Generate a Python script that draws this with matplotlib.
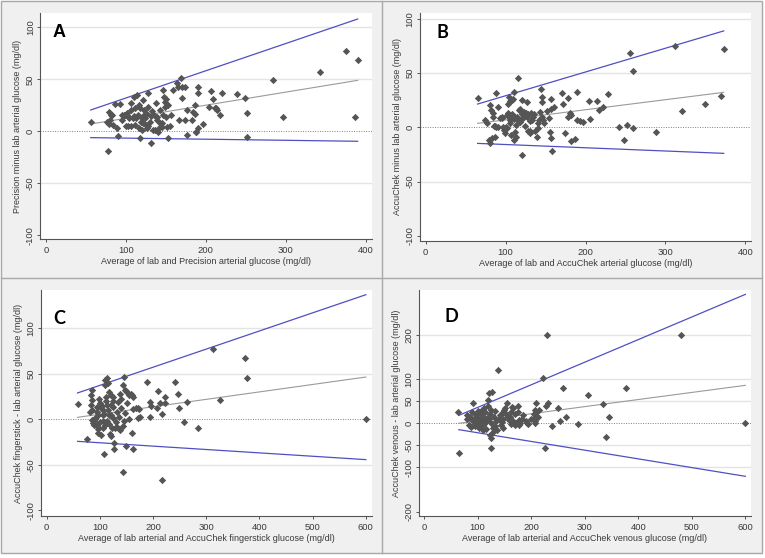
import matplotlib
matplotlib.use("Agg")
import matplotlib.pyplot as plt
from matplotlib.patches import Rectangle
from matplotlib.lines import Line2D
import numpy as np

plt.rcParams['font.family'] = ['Liberation Sans', 'DejaVu Sans']

# ---------------- data ----------------
a_x = [56, 78, 79, 82, 80, 84, 88.5, 90.5, 86, 92.6, 94.7, 97.6, 101, 103, 107, 107, 108.5, 110, 111.4, 114,
       115.5, 116.8, 117.6, 118.5, 119.8, 121.8, 122.7, 124, 126, 128, 128, 130, 132, 134, 135, 137.7, 138.5,
       140.5, 142.7, 144.8, 146.8, 149, 150, 151.8, 153, 159, 163.6, 165.6, 170, 174, 168.6, 169.8, 176, 166.5,
       174, 176, 182.3, 184.4, 186.5, 190, 190.6, 187.3, 190.6, 197, 206.5, 209.4, 211, 214, 217.8, 220, 239.4,
       249, 251, 252, 284, 296, 343, 376, 387, 390,
       76, 81, 79, 99, 104, 106, 113, 120, 123, 125, 126, 131, 136, 139, 143, 145, 146, 148, 149, 150, 153, 155,
       157, 186, 188, 204, 213, 95, 100, 102, 112, 118, 128, 133, 141, 116, 110, 121]
a_y = [9.2, -19, 18.8, 15.7, 10.9, 6, 2.9, -4.2, 26, 26, 10.9, 15.7, 15.7, 5.1, 26.9, 20.5, 12.5, 33.3, 6, 35,
       15.7, 25.3, -6.1, 9.2, 1.2, 30, 20.5, 12.5, 2.9, 36.5, 23.7, 9.2, -11, 1.2, 15.7, 26.9, 10.9,
       -0.4, 20.5, 7.7, 39.7, 28.5, 14, 4.4, -6.1, 39.7, 46.7, 42.5, 42.5, 42.5, 51, 31.7, 20.5, 10.9,
       10.9, -3.5, 10.9, 18.8, 25.3, 42.9, 36.5, -0.4, 2.9, 7, 39, 30.8, 22, 20.5, 15.7, 37, 35.9,
       32.3, 17.3, -5.2, 49, 14, 57, 77, 14, 69,
       9.3, 16, 7, 16, 12.5, 5, 12.5, 12.5, 16, 6, 17, 15, 1, 14, 8, 4, 16, 33, 23, 31, 25, 5,
       16, 17, -1, 23, 22, 16, 5, 18, 22, 22, 5, 20, 3, 3, 15, 8]
a_line_x = [56, 390]
a_upper = [20.5, 108]
a_mean = [7, 49]
a_lower = [-6.1, -9.6]

b_x = [65, 79.6, 83, 86.7, 80.5, 74, 77, 80.5, 82, 84, 84, 85, 87, 88.5, 88, 91, 95, 97, 99.6, 99, 101.4, 103,
       104, 105, 106, 103, 104, 106, 108, 110.5, 112, 113, 114.6, 116, 117, 118, 120, 121, 123, 124.3, 126.4,
       127, 128, 130, 131, 132, 133, 134, 139, 141, 143, 144.3, 145, 145.5, 146, 147, 148, 152, 154.7, 155.6,
       156.8, 157.6, 157, 161, 156.8, 170, 172, 174, 178.5, 178, 180, 182, 182, 187, 189, 189, 193, 197,
       204.7, 205.6, 214.8, 217, 222, 228.5, 242, 248.6, 252, 259, 255.7, 259, 288, 311.6, 321, 349, 369, 373,
       100, 102, 108, 110, 112, 115, 118, 120, 122, 125, 128, 130, 135, 137, 140, 142, 109, 111, 113, 107, 121,
       90, 93, 96, 98]
b_y = [27.3, -11.7, -10, -8.7, -14.8, 6.7, 3.7, 20.6, 16, 13.5, 9.8, 1.6, 1, 0.4, 31.4, 19, 8.3, 0.7, -1.5, -5.5,
       11.4, 13.5, 10, 6.7, 3.7, 22, 28, 24, 25, 32.9, -4, -8.7, 9.2, 45.2, 16, 5.2, 25.2, 12, 14, 1.2, 23.6,
       9.2, -3, -5.5, -3.5, 13, 7, 10, -8.7, -1, 14.4, 35, 28, 23.6, 10, 7, 4, 15.3, 8.3, -4,
       -10, -21.6, 17, 19, 25.8, 32, 21.5, -5.5, 26.8, 10, 13, 11, -12.6, -10.8, 32.9, 6.7, 6, 5.2,
       24.6, 7.4, 24.6, 16, 19, 30.5, 0, -11.7, 2.1, -0.9, 68.3, 52, -4, 75, 15, 22, 29, 72,
       0, -1, 12, 8, 10, 7, 17, 8, 10, 13, 12, 6, 12, -3, 4, 7, 26, -12, 2, -7, -25.5,
       0, 9, 10, -2]
b_line_x = [65, 373]
b_upper = [21.5, 89]
b_mean = [3.7, 32.3]
b_lower = [-14.8, -24]

c_x = [59.5, 76, 81.5, 84.6, 82.7, 84, 85, 84.6, 87, 84.6, 94, 94, 95.5, 97, 95, 97, 99, 103, 104, 105, 106,
       105, 111.5, 110, 114, 110, 116, 113, 115, 117, 114, 117, 118.5, 120, 120.6, 123.7, 120, 123.7, 120.6,
       125, 128.5, 131.6, 134, 137, 139, 143, 144, 147, 147, 149, 151, 151.6, 155.4, 158, 160, 162, 161, 163,
       168, 171, 174, 171, 175, 189, 194, 195, 196, 210, 208, 216, 213, 222, 222.5, 241, 247.5, 249.4, 258,
       264.4, 285, 326, 376, 144, 217.5, 313.5, 372, 600, 108, 127, 149, 162, 127, 146,
       90, 92, 100, 102, 108, 110, 112, 118, 125, 130, 133, 136, 140, 100, 96, 88, 138, 106, 155, 145, 122]
c_y = [16.5, -21.7, 8.4, 10.2, 15.7, 26.7, 32, -0.8, -4, 21, 13.8, -5, -8, -11, 8, 5, 22, -17.3, 15, 10, 4.4,
       -1.5, 24.8, 43, 45, 37.7, 39.5, 16, 10, 4.5, -2, -5, -16, -18, 27, 24, 16, 13.5, 4.5,
       1.6, -9.9, 8.4, 19, 28, 13, -7.4, 37.7, 6.6, 32, 31, 30, 17.6, 26.7, 28, 27, 25, -14.7, 11,
       13, 12, 11, 2, 3, 41.3, 2.9, 19, 15, 31, 13, 5.8, 18, 18, 24, 41.3, 27.5, 12.7, -2.6,
       19.3, -10, 21, 45, -58, -67, 77.7, 67.4, 0, -37.7, -33, -29.7, -33, -26, 46.5,
       0, 3, -3, 12, 6, -6, 20, 30, 20, -3, -8, 3, 22, 18, -15, -6, -12, -10, 0, -2, -10]
c_line_x = [58, 600]
c_upper = [29, 137]
c_mean = [2.2, 46.5]
c_lower = [-24.2, -44.3]

d_x = [64, 65, 79.7, 81, 84.6, 87, 92, 89, 93, 95, 96, 97, 99, 101, 98, 100, 103, 104, 107, 103, 106, 108, 110,
       112, 114, 110, 115, 106, 112, 122, 120, 126.4, 121, 123, 126, 129, 128, 123, 126, 124.5, 139, 148, 152,
       155, 150, 148, 153, 157, 148, 164, 176, 160, 163, 166, 170, 167, 172, 178, 183, 180, 170, 178, 210, 205,
       208, 210, 207, 208, 227, 231, 223, 226, 238.4, 250.7, 254, 260, 266, 288, 305.6, 335, 340, 345, 230,
       479, 378, 600,
       118, 130, 135, 140, 145, 132, 137, 116, 125, 133, 141, 144, 119, 111, 102, 96, 90, 85, 158, 162, 175,
       185, 190, 195, 200, 205, 212, 215, 192]
d_y = [25, -68, 18.9, 9, -4, -7.7, 47, 26, 5, -2, -6, 18, 22, 28, 15, 0, 6, -8, -4, 10, 20, 30, 15,
       35, 25, 8, 5, 0, -2, 69.5, 53, 72, 10, 20, 0, -10, -19, -26.5, -34, -57, 121, 25, 35,
       45, 30, 10, 20, 15, -11.5, 38, 40, 15, 25, 35, 20, 5, 0, 8, 10, 0, -3, -3, 47, 20,
       30, 25, 0, 5, 40, 46, 102, -57, -6, 34, 6, 79.5, 15, -1.6, 64, 44, -30, 15, 200.7,
       200.7, 80, 0,
       12, 15, 5, 10, 2, -5, -15, -12, 30, 28, 18, -3, 40, -15, -10, 12, 8, 15, 8, -2, 25,
       18, 5, -2, 10, 12, 15, 30, 0]
d_line_x = [65, 600]
d_upper = [18, 292]
d_mean = [0, 86]
d_lower = [-14.4, -120]

panels = [
    dict(letter="A", x=a_x, y=a_y, lx=a_line_x, up=a_upper, mn=a_mean, lo=a_lower,
         ylabel="Precision minus lab arterial glucose (mg/dl)",
         xlabel="Average of lab and Precision arterial glucose (mg/dl)",
         xticks=[0, 100, 200, 300, 400], yticks=[-100, -50, 0, 50, 100],
         xlim=(-7.5, 408), ylim=(-103.6, 113.8),
         box=(40, 372, 13, 239), lpos=(0.039, 0.914), lfam="Liberation Sans"),
    dict(letter="B", x=b_x, y=b_y, lx=b_line_x, up=b_upper, mn=b_mean, lo=b_lower,
         ylabel="AccuChek minus lab arterial glucose (mg/dl)",
         xlabel="Average of lab and AccuChek arterial glucose (mg/dl)",
         xticks=[0, 100, 200, 300, 400], yticks=[-100, -50, 0, 50, 100],
         xlim=(-7.5, 407.5), ylim=(-104.6, 105.8),
         box=(419.7, 751.3, 12.7, 240.7), lpos=(0.052, 0.913), lfam="Lato"),
    dict(letter="C", x=c_x, y=c_y, lx=c_line_x, up=c_upper, mn=c_mean, lo=c_lower,
         ylabel="AccuChek fingerstick - lab arterial glucose (mg/dl)",
         xlabel="Average of lab arterial and AccuChek fingerstick glucose (mg/dl)",
         xticks=[0, 100, 200, 300, 400, 500, 600], yticks=[-100, -50, 0, 50, 100],
         xlim=(-11.3, 611), ylim=(-106.6, 142.5),
         box=(40.7, 371.7, 289.7, 516.3), lpos=(0.037, 0.875), lfam="Lato"),
    dict(letter="D", x=d_x, y=d_y, lx=d_line_x, up=d_upper, mn=d_mean, lo=d_lower,
         ylabel="AccuChek venous - lab arterial glucose (mg/dl)",
         xlabel="Average of lab arterial and AccuChek venous glucose (mg/dl)",
         xticks=[0, 100, 200, 300, 400, 500, 600], yticks=[-200, -100, -50, 0, 50, 100, 200],
         xlim=(-9.9, 610), ylim=(-210.6, 302.6),
         box=(418.7, 750.7, 289.7, 516.3), lpos=(0.078, 0.882), lfam="Lato"),
]

W, H = 765, 558
fig = plt.figure(figsize=(W / 100, H / 100), dpi=100)
fig.patch.set_facecolor("white")

def fx(px):
    return px / W

def fy(py):
    return 1 - py / H

# panel background and frames
bg = "#f0f0f0"
edge = "#a8a8a8"
fig.patches.append(Rectangle((fx(1), fy(553)), fx(761), 552 / H, transform=fig.transFigure,
                             facecolor=bg, edgecolor=edge, linewidth=1.0, zorder=-10))
fig.lines.append(Line2D([fx(382), fx(382)], [fy(1), fy(553)], transform=fig.transFigure,
                        color=edge, linewidth=1.0, zorder=-9))
fig.lines.append(Line2D([fx(1), fx(762)], [fy(278), fy(278)], transform=fig.transFigure,
                        color=edge, linewidth=1.0, zorder=-9))

blue = "#4f4fc4"
txt = "#3a3a3a"
fs = 6.5
for p in panels:
    l, r, t, b = p["box"]
    wpx, hpx = r - l, b - t
    ax = fig.add_axes([fx(l), fy(b), wpx / W, hpx / H])
    ax.set_zorder(5)
    ax.set_facecolor("white")
    ax.set_xlim(*p["xlim"])
    ax.set_ylim(*p["ylim"])
    for s in ["top", "right"]:
        ax.spines[s].set_visible(False)
    for s in ["left", "bottom"]:
        ax.spines[s].set_color("#555555")
        ax.spines[s].set_linewidth(0.8)
    ax.set_xticks(p["xticks"])
    ax.set_yticks(p["yticks"])
    ax.set_yticklabels([str(v) for v in p["yticks"]], rotation=90, va="center")
    ax.tick_params(axis="both", length=2.5, width=0.7, color="#555555", labelsize=fs + 0.3,
                   labelcolor=txt)
    ax.tick_params(axis="y", pad=1.2)
    ax.tick_params(axis="x", pad=2.5)
    # gridlines (skip 0 and lowest tick)
    for v in p["yticks"][1:]:
        if v != 0:
            ax.axhline(v, color="#e4e4e4", linewidth=1.0, zorder=0)
    ax.axhline(0, color="#808080", linewidth=0.7, linestyle=(0, (1, 1.5)), zorder=1)
    ax.plot(p["lx"], p["mn"], color="#9a9a9a", linewidth=0.8, zorder=2)
    ax.plot(p["lx"], p["up"], color=blue, linewidth=0.9, zorder=2)
    ax.plot(p["lx"], p["lo"], color=blue, linewidth=0.9, zorder=2)
    ax.scatter(p["x"], p["y"], marker="D", s=14, color="#555555", linewidths=0, zorder=3)
    ax.set_ylabel(p["ylabel"], fontsize=fs, color=txt)
    ax.set_xlabel(p["xlabel"], fontsize=fs, color=txt)
    ax.yaxis.set_label_coords(-17.5 / wpx, 0.5)
    ax.xaxis.set_label_coords(0.5, -18.0 / hpx)
    ax.text(p["lpos"][0], p["lpos"][1], p["letter"], transform=ax.transAxes, fontsize=13,
            fontweight="bold", family=[p["lfam"], "DejaVu Sans"], va="center", ha="left", color="black")

fig.savefig("out.png", dpi=100)
